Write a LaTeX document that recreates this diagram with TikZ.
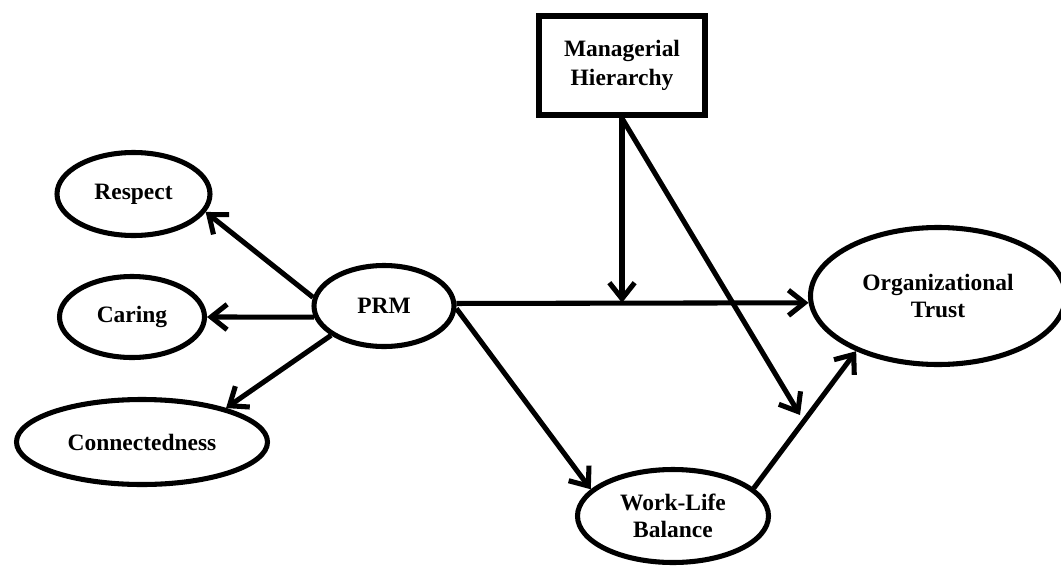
\documentclass[tikz,border=0pt]{standalone}
\usepackage{fontspec}
\setmainfont{Liberation Serif}
\usetikzlibrary{arrows.meta,shapes.geometric}
\begin{document}
\begin{tikzpicture}[x=0.75pt,y=-0.75pt,
  lbl/.style={font=\fontsize{17.6}{20}\selectfont\bfseries, align=center, inner sep=0pt},
  oval/.style={lbl, ellipse, draw, line width=3.8pt},
  boxnode/.style={lbl, rectangle, draw, line width=5pt},
  arr/.style={line width=3.8pt, -{Straight Barb[length=12pt,width=19pt,line width=3.8pt]}}]
\useasboundingbox (0,0) rectangle (1061,568);
\begin{scope}
\clip (0,0) rectangle (1061,568);
\node[boxnode, minimum width=166*0.75pt, minimum height=99*0.75pt] (mh) at (622,65.5) {Managerial\\[2pt]Hierarchy};
\node[oval, minimum width=153*0.75pt, minimum height=83*0.75pt] (respect) at (133.5,194) {Respect};
\node[oval, minimum width=145*0.75pt, minimum height=81*0.75pt] (caring) at (132,317) {Caring};
\node[oval, minimum width=251*0.75pt, minimum height=85*0.75pt] (connect) at (142,442) {Connectedness};
\node[oval, minimum width=140*0.75pt, minimum height=81*0.75pt] (prm) at (384,306) {PRM};
\node[oval, minimum width=255*0.75pt, minimum height=137*0.75pt] (ot) at (938,296) {Organizational\\Trust};
\node[oval, minimum width=191*0.75pt, minimum height=93*0.75pt] (wlb) at (673,516) {Work-Life\\Balance};
\end{scope}
\coordinate (mhend) at (800,415);
\draw[arr] (prm.173) -- (respect.-14);
\draw[arr] (prm.189) -- (caring.east);
\draw[arr] (prm.209) -- (connect.22);
\draw[arr] (prm.2) -- (ot.183);
\draw[arr] (mh.south) -- (mh.south |- ot.183);
\draw[arr] (mh.south) -- (mhend);
\draw[arr] (prm.-2) -- (wlb.162);
\draw[arr] (wlb.19) -- (ot.214);
\end{tikzpicture}
\end{document}
